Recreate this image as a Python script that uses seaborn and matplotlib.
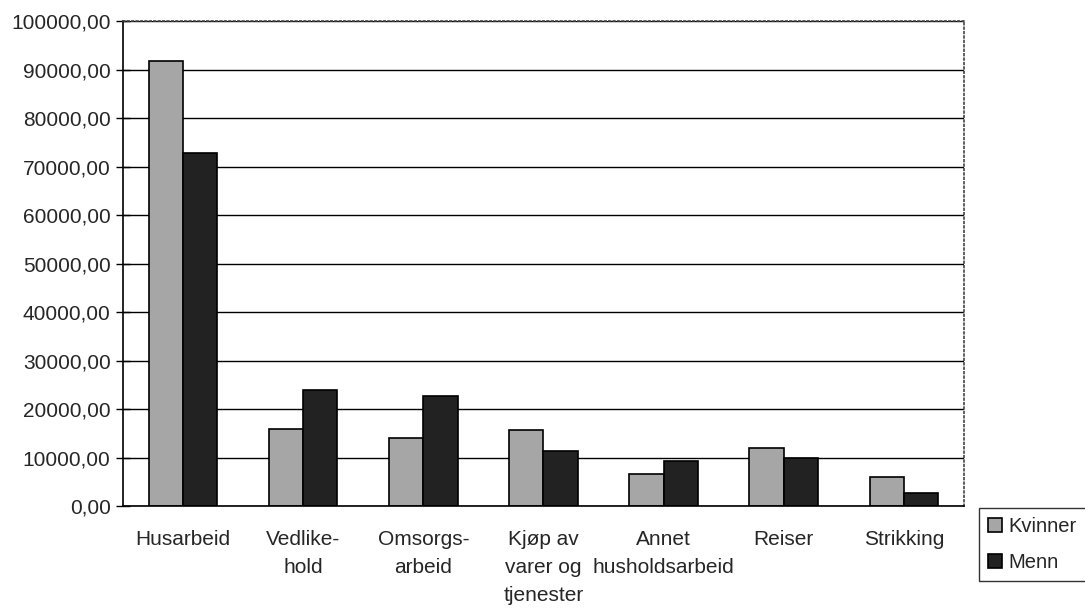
import seaborn as sns
import matplotlib.pyplot as plt
import pandas as pd
from matplotlib.ticker import FuncFormatter

categories = ["Husarbeid", "Vedlike-\nhold", "Omsorgs-\narbeid", "Kjøp av\nvarer og\ntjenester",
              "Annet\nhusholdsarbeid", "Reiser", "Strikking"]
kvinner = [91800, 16000, 14000, 15700, 6600, 12000, 6000]
menn = [72800, 23900, 22700, 11300, 9300, 9900, 2600]
groups = ["Kvinner", "Menn"]

sns.set_theme(style="white")
plt.rcParams['font.family'] = ['Liberation Sans', 'DejaVu Sans']

df = pd.DataFrame({"kategori": categories * 2,
                   "verdi": kvinner + menn,
                   "kjonn": [groups[0]] * len(categories) + [groups[1]] * len(categories)})

fig = plt.figure(figsize=(10.85, 6.09), dpi=100)
ax = fig.add_axes([0.1134, 0.169, 0.775, 0.796])
sns.barplot(data=df, x="kategori", y="verdi", hue="kjonn",
            palette=["#a6a6a6", "#222222"], width=0.57, gap=0,
            edgecolor="black", linewidth=1.2, saturation=1, ax=ax, legend=True)

ax.set_ylim(0, 100000)
ax.set_xlim(-0.5, len(categories) - 0.5)
ax.set_yticks(range(0, 100001, 10000))
ax.yaxis.set_major_formatter(FuncFormatter(lambda v, p: f"{v:.2f}".replace(".", ",")))
ax.yaxis.grid(True, color="black", linewidth=1)
ax.set_axisbelow(True)
ax.set_xlabel("")
ax.set_ylabel("")

# category boundaries get the ticks, labels sit on minor ticks at the centres
ax.set_xticks([i + 0.5 for i in range(-1, len(categories))], minor=False)
ax.set_xticklabels([])
ax.set_xticks(range(len(categories)), minor=True)
ax.set_xticklabels(categories, minor=True, fontsize=15, linespacing=1.6, va="top")
ax.tick_params(axis="x", which="minor", length=0, pad=17)
ax.tick_params(axis="x", which="major", direction="inout", length=10, width=1, color="black")
ax.tick_params(axis="y", direction="inout", length=10, width=1, color="black",
               labelsize=15, pad=4, left=True)

for side in ["left", "bottom"]:
    ax.spines[side].set_color("black")
    ax.spines[side].set_linewidth(1.2)
for side in ["top", "right"]:
    ax.spines[side].set_color("#444444")
    ax.spines[side].set_linewidth(1.2)
    ax.spines[side].set_linestyle(":")

ax.legend(title=None, loc="lower left", bbox_to_anchor=(1.018, -0.155),
          frameon=True, fancybox=False, edgecolor="black", fontsize=14.5,
          handlelength=0.7, handleheight=0.7, handletextpad=0.3,
          labelspacing=0.85, borderpad=0.45, borderaxespad=0)

fig.savefig("out.png", dpi=100)
